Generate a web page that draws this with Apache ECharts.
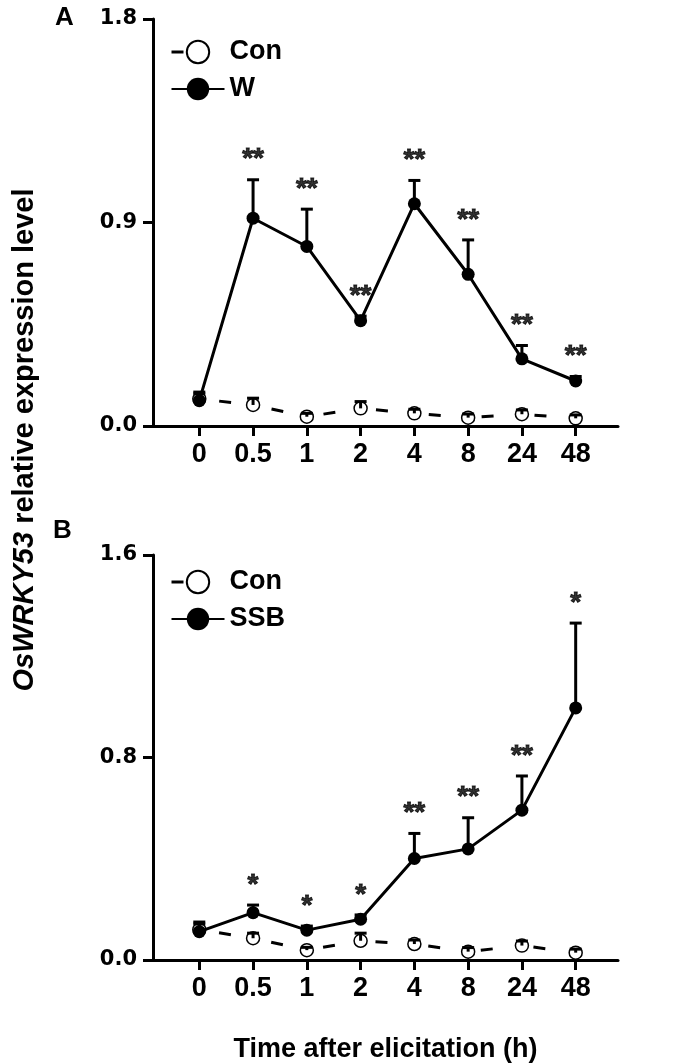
<!DOCTYPE html>
<html><head><meta charset="utf-8">
<script src="https://cdn.jsdelivr.net/npm/echarts@6/dist/echarts.min.js"></script>
<style>html,body{margin:0;padding:0;background:#fff}#c{width:680px;height:1064px}</style>
</head><body><div id="c"></div>
<script>
// ---- data ----
const categories = ['0', '0.5', '1', '2', '4', '8', '24', '48'];
const yTicksA = [0, 0.9, 1.8];
const yTicksB = [0, 0.8, 1.6];
// Panel A: Con vs W
const conA    = [0.120, 0.093, 0.041, 0.078, 0.056, 0.037, 0.052, 0.034];
const conAErr = [0.030, 0.030, 0.015, 0.030, 0.018, 0.016, 0.019, 0.015];
const wA      = [0.112, 0.919, 0.794, 0.466, 0.983, 0.671, 0.297, 0.199];
const wAErr   = [0.030, 0.170, 0.165, 0.020, 0.103, 0.152, 0.059, 0.020];
const sigA    = ['', '**', '**', '**', '**', '**', '**', '**'];
// Panel B: Con vs SSB
const conB    = [0.120, 0.086, 0.039, 0.076, 0.063, 0.033, 0.057, 0.029];
const conBErr = [0.030, 0.020, 0.011, 0.030, 0.016, 0.016, 0.018, 0.014];
const ssbB    = [0.112, 0.187, 0.118, 0.161, 0.401, 0.439, 0.592, 0.996];
const ssbBErr = [0.030, 0.030, 0.016, 0.017, 0.099, 0.123, 0.135, 0.335];
const sigB    = ['', '*', '*', '*', '**', '**', '**', '*'];

// ---- styling ----
const FONT = 'Liberation Sans, Arial, sans-serif';
const TICKFONT = 'DejaVu Sans, sans-serif';
const idx = categories.map((c, i) => i);

function errRender(params, api) {
  const x = api.value(0), m = api.value(1), e = api.value(2);
  const p0 = api.coord([x, m]);
  const p1 = api.coord([x, m + e]);
  const hw = 6;
  return { type: 'group', children: [
    { type: 'line', shape: { x1: p0[0], y1: p0[1], x2: p1[0], y2: p1[1] }, style: { stroke: '#000', lineWidth: 3 } },
    { type: 'line', shape: { x1: p1[0] - hw, y1: p1[1], x2: p1[0] + hw, y2: p1[1] }, style: { stroke: '#000', lineWidth: 3 } }
  ]};
}

function panelSeries(g, con, conErr, trt, trtErr, sig, trtName) {
  return [
    { name: 'Con', type: 'line', xAxisIndex: g, yAxisIndex: g, z: 3,
      data: idx.map(i => [i, con[i]]),
      symbol: 'circle', symbolSize: 13,
      itemStyle: { color: '#fff', borderColor: '#000', borderWidth: 1.5 },
      lineStyle: { color: '#000', width: 3, type: [12, 41], dashOffset: 33 } },
    { name: trtName, type: 'line', xAxisIndex: g, yAxisIndex: g, z: 4,
      data: idx.map(i => [i, trt[i]]),
      symbol: 'circle', symbolSize: 13,
      itemStyle: { color: '#000', borderColor: '#000', borderWidth: 0 },
      lineStyle: { color: '#000', width: 3 } },
    { name: 'errCon' + g, type: 'custom', xAxisIndex: g, yAxisIndex: g, z: 5,
      data: idx.map(i => [i, con[i], conErr[i]]), encode: { x: 0, y: 1 },
      renderItem: errRender, silent: true },
    { name: 'errTrt' + g, type: 'custom', xAxisIndex: g, yAxisIndex: g, z: 5,
      data: idx.map(i => [i, trt[i], trtErr[i]]), encode: { x: 0, y: 1 },
      renderItem: errRender, silent: true },
    { name: 'sig' + g, type: 'scatter', xAxisIndex: g, yAxisIndex: g, z: 6, silent: true,
      data: idx.map(i => [i, trt[i] + trtErr[i]]),
      symbolSize: 0, itemStyle: { color: '#000' },
      label: { show: true, position: 'top', distance: 6,
        formatter: p => sig[p.dataIndex],
        fontSize: 28, fontWeight: 'bold', fontFamily: FONT, color: '#000', lineHeight: 28,
        textBorderColor: '#000', textBorderWidth: 1 } }
  ];
}

function xAxis(g, withName) {
  const ax = {
    type: 'value', gridIndex: g, min: -0.861, max: 7.787,
    axisLine: { show: true, onZero: false, lineStyle: { color: '#000', width: 3 } },
    axisTick: { show: true, customValues: idx, length: 10, lineStyle: { color: '#000', width: 3 } },
    axisLabel: { show: true, customValues: idx, margin: 15,
      formatter: v => categories[Math.round(v)],
      fontSize: 27, fontWeight: 'bold', fontFamily: FONT, color: '#000' },
    splitLine: { show: false }
  };
  if (withName) {
    Object.assign(ax, { name: 'Time after elicitation (h)', nameLocation: 'middle', nameGap: 76,
      nameTextStyle: { fontSize: 27, fontWeight: 'bold', fontFamily: FONT, color: '#000' } });
  }
  return ax;
}

function yAxis(g, ticks) {
  return {
    type: 'value', gridIndex: g, min: ticks[0], max: ticks[ticks.length - 1], interval: ticks[1] - ticks[0],
    axisLine: { show: true, onZero: false, lineStyle: { color: '#000', width: 3 } },
    axisTick: { show: true, length: 10, lineStyle: { color: '#000', width: 3 } },
    axisLabel: { margin: 16, formatter: v => v.toFixed(1),
      fontSize: 21, fontWeight: 'bold', fontFamily: TICKFONT, color: '#000' },
    splitLine: { show: false }
  };
}

function legend(top, names) {
  return {
    orient: 'vertical', left: 170, top: top, itemWidth: 53, itemHeight: 28, itemGap: 9,
    padding: 0, selectedMode: false,
    textStyle: { fontSize: 27, fontWeight: 'bold', fontFamily: FONT, color: '#000', lineHeight: 28 },
    data: [
      { name: names[0], lineStyle: { color: '#000', width: 3, type: [12, 41], dashOffset: 0 } },
      { name: names[1] }
    ]
  };
}

const chart = echarts.init(document.getElementById('c'), null, { renderer: 'canvas' });
chart.setOption({
  animation: false,
  backgroundColor: '#fff',
  grid: [
    { left: 153, right: 62, top: 19, height: 407 },
    { left: 153, right: 62, top: 555, height: 405 }
  ],
  xAxis: [xAxis(0, false), xAxis(1, true)],
  yAxis: [yAxis(0, yTicksA), yAxis(1, yTicksB)],
  legend: [legend(38, ['Con', 'W']), legend(568, ['Con', 'SSB'])],
  series: [].concat(
    panelSeries(0, conA, conAErr, wA, wAErr, sigA, 'W'),
    panelSeries(1, conB, conBErr, ssbB, ssbBErr, sigB, 'SSB')
  ),
  graphic: [
    { type: 'text', left: 55, top: 5, style: { text: 'A', fontSize: 26, fontWeight: 'bold', fontFamily: FONT, fill: '#000' } },
    { type: 'text', left: 53, top: 518, style: { text: 'B', fontSize: 26, fontWeight: 'bold', fontFamily: FONT, fill: '#000' } },
    { type: 'text', x: 25, y: 440, rotation: Math.PI / 2,
      style: { text: '{i|OsWRKY53} relative expression level', align: 'center', verticalAlign: 'middle',
        fontSize: 29, fontWeight: 'bold', fontFamily: FONT, fill: '#000',
        rich: { i: { fontSize: 29, fontWeight: 'bold', fontStyle: 'italic', fontFamily: FONT, fill: '#000' } } } }
  ]
});
</script>
</body></html>
